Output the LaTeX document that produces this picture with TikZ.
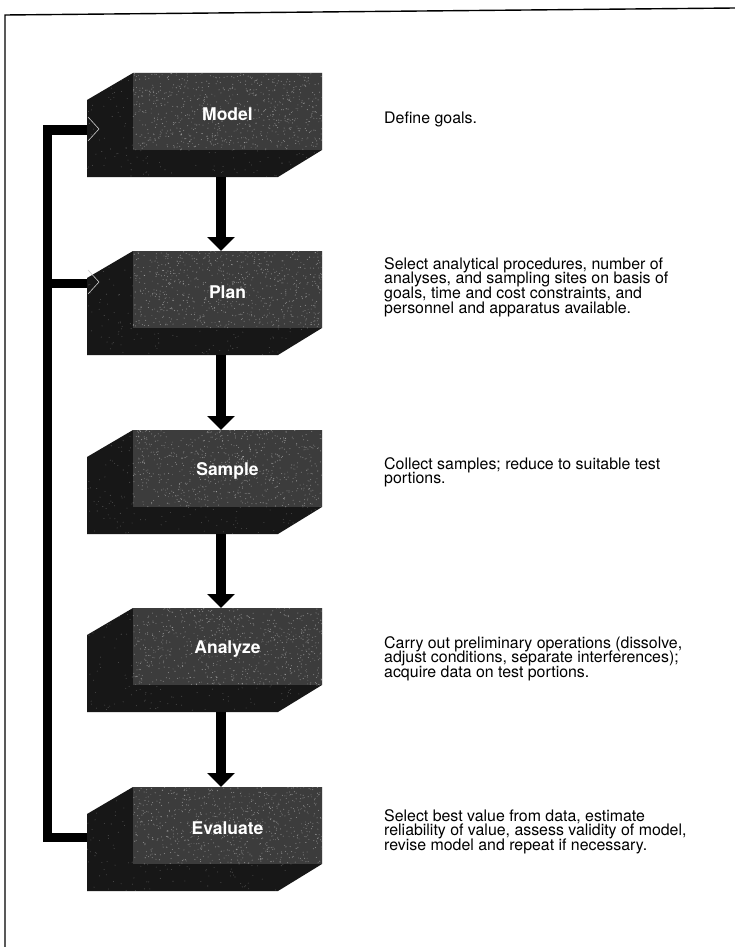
\documentclass[tikz,border=0pt]{standalone}
\usepackage{fontspec}
\setmainfont{TeX Gyre Heros}
\usetikzlibrary{arrows.meta,calc}

\definecolor{slabdark}{HTML}{171717}
\definecolor{slabface}{HTML}{3C3C3C}

\newcommand\descfont{\fontsize{15.9}{14.9}\selectfont\lineskiplimit-20pt\relax}
\newcommand\labelfont{\fontsize{17.5}{20}\selectfont\bfseries}

\tikzset{
  frameline/.style={line width=1.4pt,black},
  backface/.style={fill=slabface,minimum width=189pt,minimum height=77pt,inner sep=0pt},
  frontface/.style={minimum width=191pt,minimum height=77pt,inner sep=0pt},
  steplabel/.style={text=white,font=\labelfont},
  flow/.style={line width=10pt,black,-{Triangle[width=27pt,length=14pt]}},
  feedback/.style={line width=9pt,black,line join=miter},
  entrymark/.style={gray!40,line width=0.6pt},
  desc/.style={anchor=north west,inner sep=0pt,align=left,font=\descfont},
  grain/.style={fill=white,opacity=#1},
}

% One process step: name, top edge of the block, label
\newcommand\slab[3]{%
  \fill[slabdark] (87,#2+27) -- (133,#2) -- (322,#2) -- (322,#2+77)
        -- (278,#2+104) -- (87,#2+104) -- cycle;
  \node[backface] (#1) at (227.5,#2+38.5) {};
  \begin{scope}
    \clip (87,#2+27) -- (133,#2) -- (322,#2) -- (322,#2+77)
        -- (278,#2+104) -- (87,#2+104) -- cycle;
    \foreach \k in {1,...,260}
      \fill[grain=.22] (87+235*rnd,#2+104*rnd) circle (0.55);
    \foreach \k in {1,...,600}
      \fill[grain=.38] (133+189*rnd,#2+77*rnd) circle (0.55);
  \end{scope}
  \node[steplabel] (#1-label) at (227.5,#2+41) {#3};
  \node[frontface] (#1-f) at (182.5,#2+65.5) {};
  \coordinate (#1-out) at (221,#2+104);
  \coordinate (#1-in) at (221,#2);
}

\begin{document}
\begin{tikzpicture}[x=1pt,y=-1pt]
\useasboundingbox (0,0) rectangle (735,947);
\fill[white] (0,0) rectangle (735,947);

% page frame (top and left rules)
\draw[frameline] (5,947) -- (5,15) -- (735,8);

\pgfmathsetseed{4711}
\slab{model}{73}{Model}
\slab{plan}{251}{Plan}
\slab{sample}{430}{Sample}
\slab{analyze}{608}{Analyze}
\slab{evaluate}{787}{Evaluate}

% downward flow between steps
\draw[flow] (model-out) -- (plan-in);
\draw[flow] (plan-out) -- (sample-in);
\draw[flow] (sample-out) -- (analyze-in);
\draw[flow] (analyze-out) -- (evaluate-in);

% feedback loop from Evaluate back to Model and Plan
\coordinate (railtop) at (47.5,130);
\coordinate (railplan) at (47.5,283);
\coordinate (railbot) at (47.5,837);
\draw[feedback] (evaluate-f.west |- railbot) -- (railbot) -- (railtop) -- (model-f.west |- railtop);
\draw[feedback] (railplan) -- (plan-f.west |- railplan);
\draw[entrymark] (88,117) -- (99,129) -- (88,141);
\draw[entrymark] (88,270) -- (99,282) -- (88,294);

% step descriptions
\node[desc] (d-model) at (384,112) {Define goals.};
\node[desc] (d-plan) at (384,257) {Select analytical procedures, number of\\
  analyses, and sampling sites on basis of\\
  goals, time and cost constraints, and\\
  personnel and apparatus available.};
\node[desc] (d-sample) at (384,457) {Collect samples; reduce to suitable test\\
  portions.};
\node[desc] (d-analyze) at (384,636) {Carry out preliminary operations (dissolve,\\
  adjust conditions, separate interferences);\\
  acquire data on test portions.};
\node[desc] (d-evaluate) at (384,809) {Select best value from data, estimate\\
  reliability of value, assess validity of model,\\
  revise model and repeat if necessary.};
\end{tikzpicture}
\end{document}
